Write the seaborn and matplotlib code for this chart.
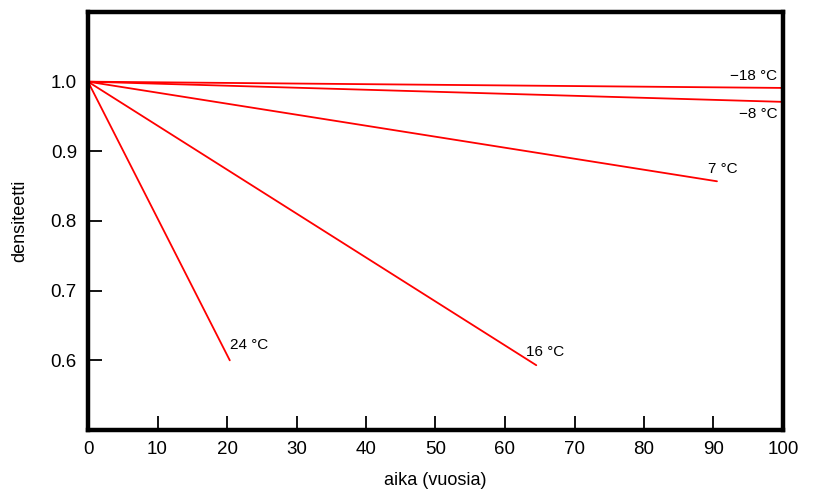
import matplotlib
matplotlib.use("Agg")
import matplotlib.pyplot as plt
import seaborn as sns
import pandas as pd

sns.set_theme(style="white")
plt.rcParams['font.family'] = ['Liberation Sans', 'DejaVu Sans']

# data: each series goes from (0, 1.0) to its end point
series = ["\u221218 \u00b0C", "\u22128 \u00b0C", "7 \u00b0C", "16 \u00b0C", "24 \u00b0C"]
start_x = [0, 0, 0, 0, 0]
start_y = [1.0, 1.0, 1.0, 1.0, 1.0]
end_x = [100, 100, 90.5, 64.5, 20.4]
end_y = [0.991, 0.971, 0.857, 0.593, 0.600]

rows = []
for s, x0, y0, x1, y1 in zip(series, start_x, start_y, end_x, end_y):
    rows.append({"aika": x0, "densiteetti": y0, "sarja": s})
    rows.append({"aika": x1, "densiteetti": y1, "sarja": s})
df = pd.DataFrame(rows)

fig = plt.figure(figsize=(8.16, 4.93), dpi=100)
ax = fig.add_axes([88/816, 63/493, (783-88)/816, (430-12)/493])

sns.lineplot(data=df, x="aika", y="densiteetti", hue="sarja",
             palette=["#ff0000"] * len(series), linewidth=1.3,
             legend=False, ax=ax, estimator=None, sort=False)

ax.set_xlim(0, 100)
ax.set_ylim(0.5, 1.1)
ax.set_xticks([0, 10, 20, 30, 40, 50, 60, 70, 80, 90, 100])
ax.set_yticks([0.6, 0.7, 0.8, 0.9, 1.0])
ax.set_yticklabels(["0.6", "0.7", "0.8", "0.9", "1.0"])
ax.tick_params(direction="in", length=10, width=1.3, color="black",
               labelsize=13.5, pad=8, labelcolor="black",
               bottom=True, left=True)
for sp in ax.spines.values():
    sp.set_linewidth(3.2)
    sp.set_color("black")
ax.set_xlabel("aika (vuosia)", fontsize=13, labelpad=10, color="black")
ax.set_ylabel("densiteetti", fontsize=13, labelpad=16, color="black")

# labels
lab_x = [99.2, 99.2, 89.2, 63.0, 20.5]
lab_y = [1.008, 0.954, 0.875, 0.612, 0.622]
lab_ha = ["right", "right", "left", "left", "left"]
for s, lx, ly, ha in zip(series, lab_x, lab_y, lab_ha):
    ax.text(lx, ly, s, fontsize=11, ha=ha, va="center", color="black")

fig.savefig("out.png", dpi=100)
